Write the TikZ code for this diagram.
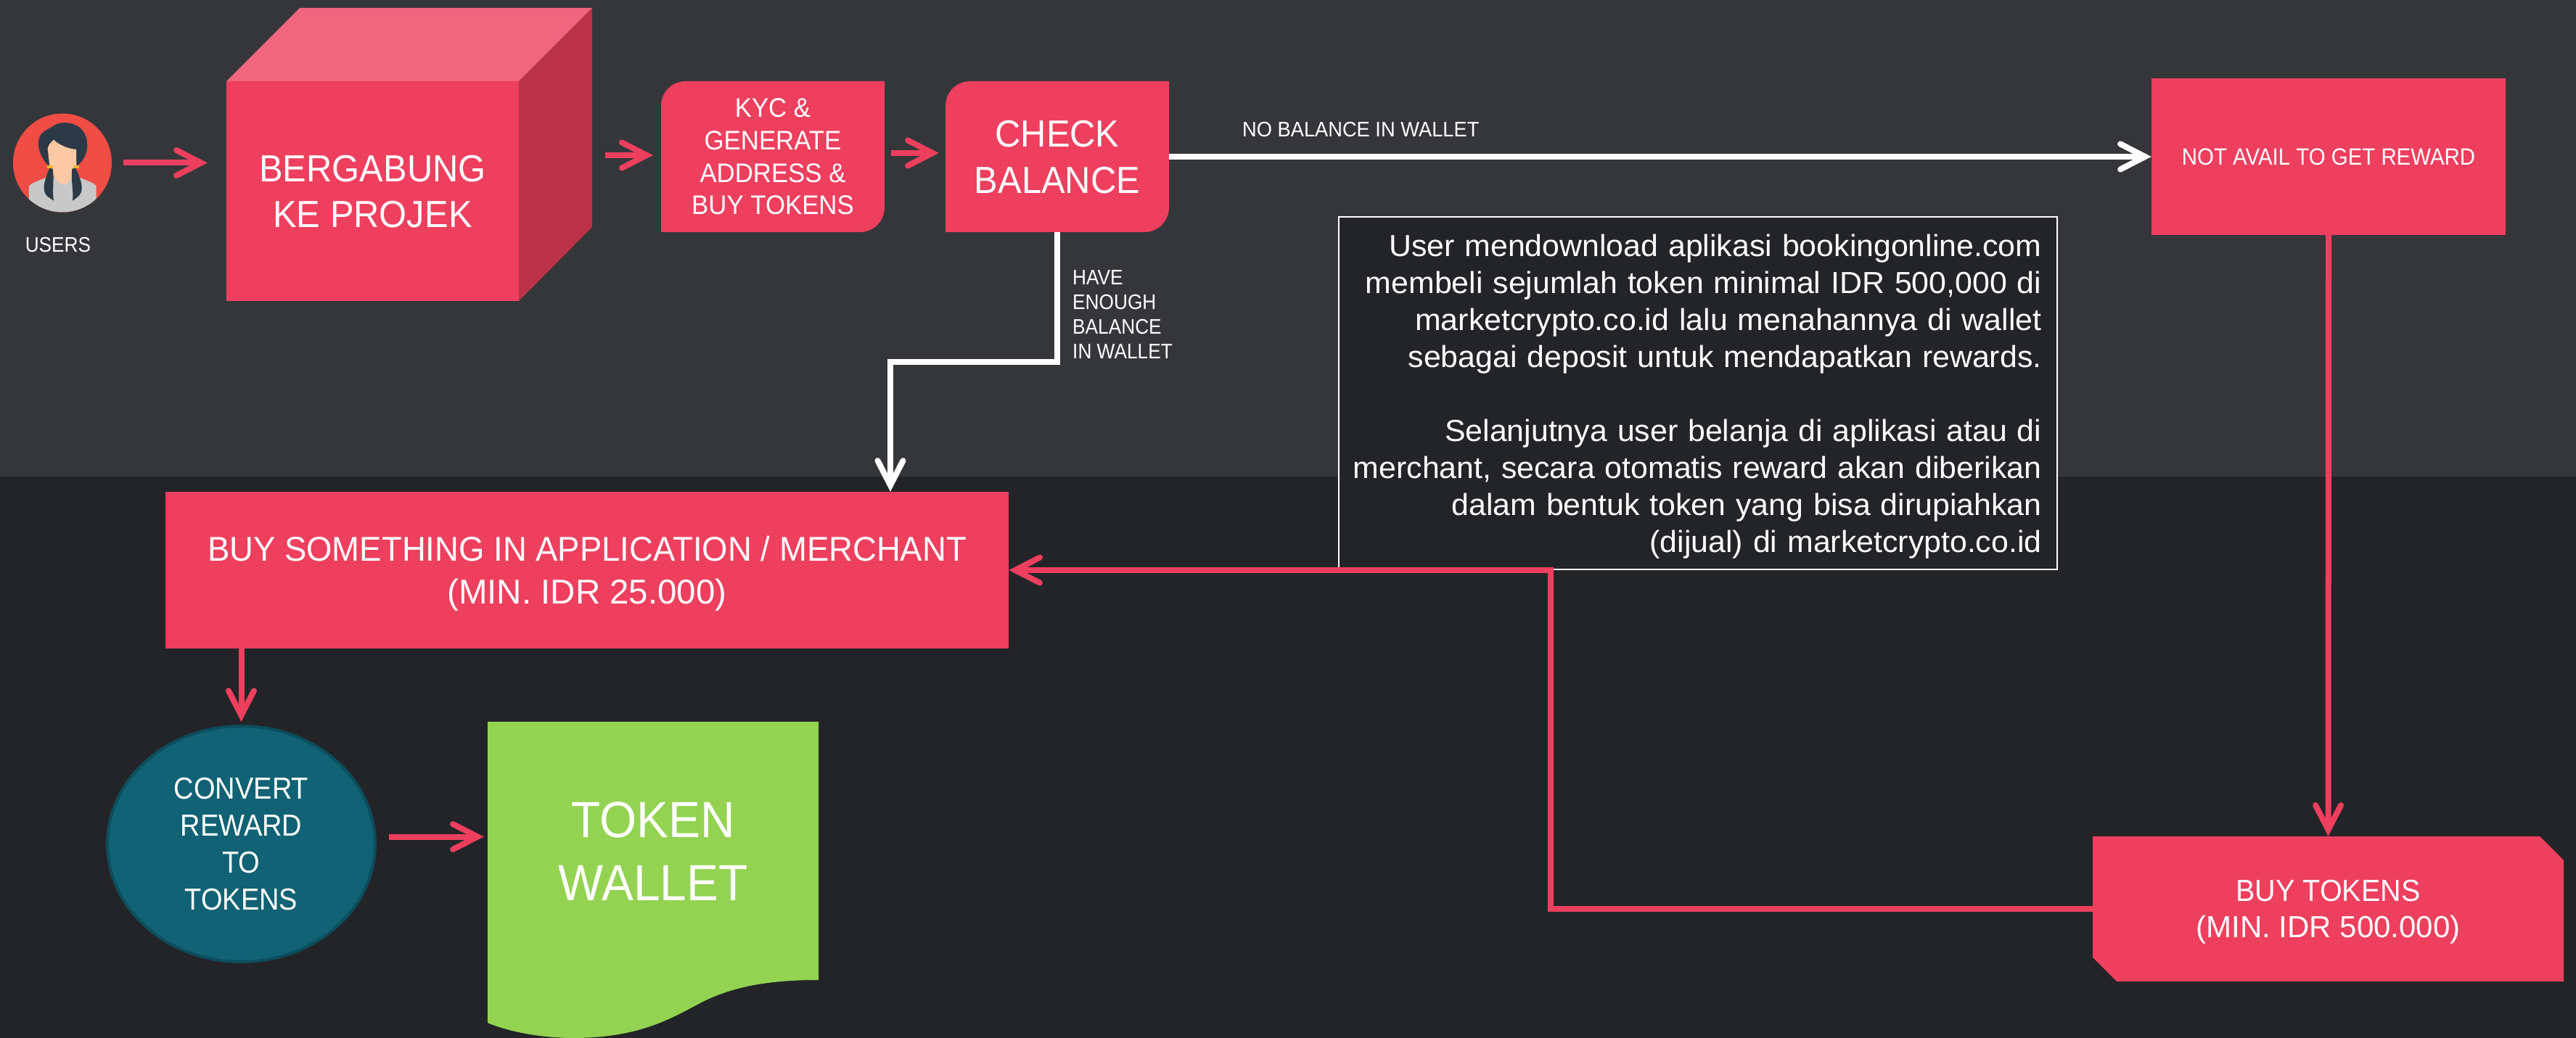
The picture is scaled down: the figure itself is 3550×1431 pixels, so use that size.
\documentclass[tikz,border=0pt]{standalone}
\usepackage{fontspec}
\setmainfont[FakeStretch=0.94]{Liberation Sans}
\newfontfamily\narrowf[FakeStretch=0.905]{Liberation Sans}
\newfontfamily\plainf{Liberation Sans}
\newfontfamily\notef[FakeStretch=1.02]{Liberation Sans}
\usetikzlibrary{arrows.meta,shapes.geometric,calc}
\definecolor{bgtop}{HTML}{35363A}
\definecolor{bgbot}{HTML}{232428}
\definecolor{pink}{HTML}{EE3F5E}
\definecolor{pinktop}{HTML}{F2657F}
\definecolor{pinkside}{HTML}{BC3349}
\definecolor{teal}{HTML}{106274}
\definecolor{tealdark}{HTML}{0C4D5C}
\definecolor{leaf}{HTML}{93D351}
\definecolor{avatarred}{HTML}{F04D45}
\definecolor{hair}{HTML}{2C3A47}
\definecolor{skin}{HTML}{FDC9A4}
\definecolor{cloth}{HTML}{C8C8C8}
\definecolor{tie}{HTML}{F5B52E}
\newcommand{\fsz}[2]{\fontsize{#1}{#2}\selectfont}
\newcommand{\rline}[1]{\makebox[\linewidth][r]{#1}}
\tikzset{
  txt/.style={text=white,inner sep=0pt,align=center,text depth=0pt},
  boxnode/.style={txt,rectangle,minimum width=#1},
  redflow/.style={draw=pink,line width=8pt,line join=miter,
    -{Straight Barb[length=34pt,width=35pt,line cap=round,line join=miter]}},
  whiteflow/.style={draw=white,line width=8pt,line join=miter,
    -{Straight Barb[length=34pt,width=35pt,line cap=round,line join=miter]}},
}
\begin{document}
\begin{tikzpicture}[x=1pt,y=-1pt]
\useasboundingbox (0,0) rectangle (3550,1431);
\fill[bgbot] (0,0) rectangle (3550,1431);
\fill[bgtop] (0,0) rectangle (3550,657);

% avatar
\fill[avatarred] (86,224.5) circle[radius=68];
\begin{scope}[shift={(0,140)},scale=1/3]
  \begin{scope}
    \clip (258,253.5) circle[radius=204];
    \fill[cloth] (120,460) -- (120,350) .. controls (130,335) and (170,325) .. (195,312)
      -- (325,312) .. controls (350,325) and (390,335) .. (398,350) -- (398,460) -- cycle;
  \end{scope}
  \fill[hair] (200,265) .. controls (165,230) and (145,170) .. (170,135)
     .. controls (190,115) and (205,110) .. (215,105)
     .. controls (250,75) and (320,85) .. (345,125)
     .. controls (375,170) and (360,235) .. (320,265) -- cycle;
  \fill[skin] (197,195) .. controls (200,175) and (215,165) .. (222,158)
     .. controls (245,180) and (280,195) .. (315,198)
     -- (316,265) .. controls (305,300) and (290,340) .. (262,343)
     .. controls (235,340) and (215,300) .. (205,265) -- cycle;
  \fill[hair] (205,275) .. controls (190,310) and (170,360) .. (190,385)
     .. controls (200,398) and (212,402) .. (222,410)
     .. controls (215,370) and (225,320) .. (218,278) -- cycle;
  \fill[hair] (312,275) .. controls (330,310) and (350,360) .. (330,385)
     .. controls (320,398) and (310,402) .. (300,410)
     .. controls (305,370) and (292,320) .. (298,278) -- cycle;
  \fill[tie] (195,265) rectangle (220,277);
  \fill[tie] (302,265) rectangle (327,277);
\end{scope}
\node[circle,minimum size=136pt,inner sep=0pt] (users) at (86,224.5) {};
\node[txt,font=\narrowf\fsz{29}{34}] (userslabel) at (80,337) {USERS};

% cube
\fill[pinktop] (312,112) -- (413,11) -- (816,11) -- (715,112) -- cycle;
\fill[pinkside] (715,112) -- (816,11) -- (816,313) -- (715,415) -- cycle;
\node[boxnode=403pt,minimum height=303pt,fill=pink,font=\fsz{52}{63}] (join) at (513.5,263.5) {BERGABUNG\\KE PROJEK};

% KYC
\fill[pink] (911,146) .. controls (911,127) and (926,112) .. (945,112) -- (1219,112) -- (1219,286)
  .. controls (1219,305) and (1204,320) .. (1185,320) -- (911,320) -- cycle;
\node[boxnode=308pt,minimum height=208pt,font=\fsz{37}{44.7}] (kyc) at (1065,216) {KYC \&\\GENERATE\\ADDRESS \&\\BUY TOKENS};

% check
\fill[pink] (1303,146) .. controls (1303,127) and (1318,112) .. (1337,112) -- (1611,112) -- (1611,286)
  .. controls (1611,305) and (1596,320) .. (1577,320) -- (1303,320) -- cycle;
\node[boxnode=308pt,minimum height=208pt,font=\fsz{52}{64}] (check) at (1457,216) {CHECK\\BALANCE};

% not avail
\node[boxnode=488pt,minimum height=216pt,fill=pink,font=\narrowf\fsz{32.5}{40}] (noavail) at (3209,216) {NOT AVAIL TO GET REWARD};

% note box
\node[text=white,inner sep=0pt,draw=white,line width=2.5pt,fill=bgbot,minimum width=990pt,minimum height=486pt,
  text width=947pt,align=right,font=\notef\fsz{42}{51}] (note) at (2340,542)
  {\rule{0pt}{39pt}\rline{User mendownload aplikasi bookingonline.com}\\
   \rline{membeli sejumlah token minimal IDR 500,000 di}\\
   \rline{marketcrypto.co.id lalu menahannya di wallet}\\
   \rline{sebagai deposit untuk mendapatkan rewards.}\\
   \mbox{}\\
   \rline{Selanjutnya user belanja di aplikasi atau di}\\
   \rline{merchant, secara otomatis reward akan diberikan}\\
   \rline{dalam bentuk token yang bisa dirupiahkan}\\
   \rline{(dijual) di marketcrypto.co.id}};

% buy something
\node[boxnode=1162pt,minimum height=216pt,fill=pink,font=\fsz{47.5}{59}] (buysth) at (809,786) {{\fontspec[FakeStretch=0.958]{Liberation Sans}\fsz{47.5}{59}BUY SOMETHING IN APPLICATION / MERCHANT}\\{\plainf\fsz{47.5}{59}(MIN. IDR 25.000)}};

% convert
\node[ellipse,txt,fill=teal,draw=tealdark,line width=4pt,minimum width=369pt,minimum height=325pt,font=\narrowf\fsz{42}{51}] (convert) at (332.5,1163.5) {CONVERT\\REWARD\\TO\\TOKENS};

% wallet
\fill[leaf] (672,995) -- (1128,995) -- (1128,1351)
  .. controls (1060,1351) and (1015,1360) .. (977,1377)
  .. controls (939,1394) and (895,1431) .. (790,1431)
  .. controls (745,1431) and (700,1422) .. (672,1410) -- cycle;
\node[boxnode=456pt,minimum height=357pt,font=\fsz{70}{87}] (wallet) at (900,1173.5) {TOKEN\\WALLET};

% buy tokens
\fill[pink] (2884,1153) -- (3500,1153) -- (3533,1186) -- (3533,1353) -- (2917,1353) -- (2884,1320) -- cycle;
\node[boxnode=649pt,minimum height=200pt,font=\fsz{42}{50}] (buytok) at (3208.5,1253) {BUY TOKENS\\{\plainf\fsz{42}{50}(MIN. IDR 500.000)}};

% free labels
\node[txt,anchor=base west,font=\fsz{29}{34}] (nobal) at (1712,189) {NO BALANCE IN WALLET};
\node[txt,anchor=west,align=left,font=\narrowf\fsz{29}{34}] (enough) at (1478,433.5) {HAVE\\ENOUGH\\BALANCE\\IN WALLET};

% connectors
\coordinate (bendA) at (1227,499);
\coordinate (elbowB) at (2137,786);
\draw[redflow] ([xshift=16pt]users.east) -- ([xshift=-26pt]users.east -| join.west);
\draw[redflow] ([xshift=-77pt,yshift=2pt]kyc.west) -- ([xshift=-11pt,yshift=2pt]kyc.west);
\draw[redflow] ([xshift=9pt,yshift=5pt]kyc.east) -- ([xshift=-9pt,yshift=5pt]check.west);
\draw[whiteflow] (check.east) -- (noavail.west);
\draw[whiteflow] (check.south) |- (bendA) -- (bendA |- buysth.north);
\draw[redflow] (noavail.south) -- (buytok.north);
\draw[redflow] (buytok.west) -| (elbowB) -- (buysth.east);
\draw[redflow] (convert.north |- buysth.south) -- ([yshift=4pt]convert.north);
\draw[redflow] ([xshift=17pt,yshift=10pt]convert.east) -- ([xshift=-5pt,yshift=10pt]convert.east -| wallet.west);
\end{tikzpicture}
\end{document}
